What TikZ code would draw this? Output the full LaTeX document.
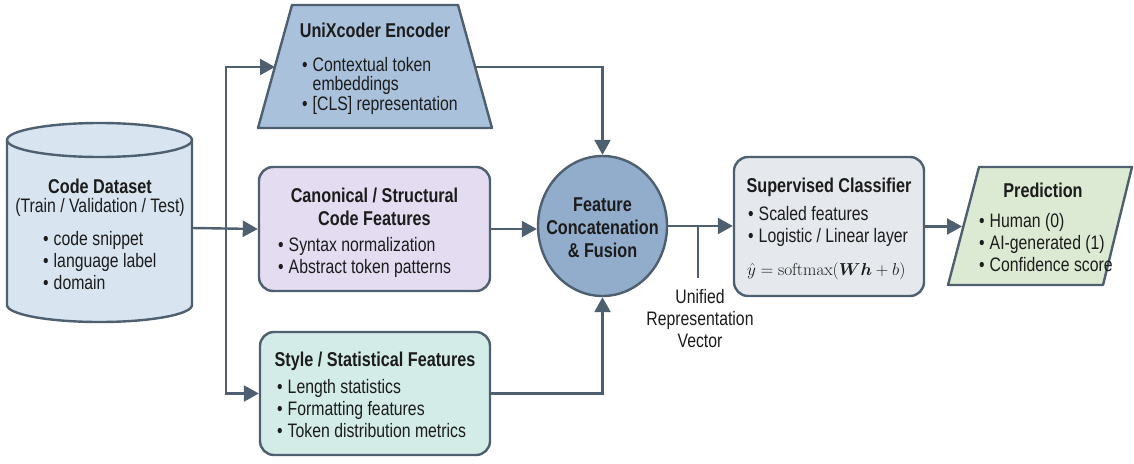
\documentclass[tikz,border=0pt]{standalone}
\usepackage[no-math]{fontspec}
\setmainfont[FakeStretch=0.81]{Liberation Sans}
\usepackage{amsmath,bm}
\usetikzlibrary{arrows.meta,shapes.geometric}
\definecolor{lc}{HTML}{4E5F70}
\definecolor{tc}{HTML}{1C1C1C}
\definecolor{cylfill}{HTML}{D8E5F1}
\definecolor{encfill}{HTML}{A9C1DB}
\definecolor{canfill}{HTML}{E4DDF2}
\definecolor{circfill}{HTML}{92ACCB}
\definecolor{stylefill}{HTML}{D4ECE7}
\definecolor{clffill}{HTML}{E5E8EC}
\definecolor{predfill}{HTML}{DCEAD3}
\newcommand{\tbl}[1]{\begin{tabular}[t]{@{}l@{\hspace{5pt}}l@{}}#1\end{tabular}}
\begin{document}
\begin{tikzpicture}[x=1pt,y=1pt,
  bd/.style={draw=lc, line width=2.4pt, line join=round},
  box/.style={bd, rounded corners=14pt, inner sep=0pt},
  ln/.style={lc, line width=2.4pt},
  arr/.style={lc, line width=2.4pt, -{Triangle[length=15pt,width=16pt]}},
  ttl/.style={font=\bfseries\fontsize{20}{23}\selectfont, text=tc, inner sep=0pt, anchor=base},
  txt/.style={font=\fontsize{19.5}{22}\selectfont, text=tc, inner sep=0pt, anchor=base west},
  ctxt/.style={font=\fontsize{19.5}{22}\selectfont, text=tc, inner sep=0pt, anchor=base}
]
\useasboundingbox (0,0) rectangle (1134,-463);
\fill[white] (0,0) rectangle (1134,-463);

% ---- cylinder (dataset)
\path[fill=cylfill] (7,-140) -- (7,-305) arc[start angle=180,end angle=360,x radius=92.5,y radius=17]
  -- (192,-140) arc[start angle=0,end angle=180,x radius=92.5,y radius=17] -- cycle;
\draw[bd] (7,-140) -- (7,-305) arc[start angle=180,end angle=360,x radius=92.5,y radius=17]
  -- (192,-140) arc[start angle=0,end angle=180,x radius=92.5,y radius=17] -- cycle;
\draw[bd] (7,-140) arc[start angle=180,end angle=360,x radius=92.5,y radius=17];
\node[inner sep=0pt, minimum width=185pt, minimum height=160pt] (data) at (99.5,-228) {};
\node[ttl] (dataT) at (100,-193) {Code Dataset};
\node[ctxt] (dataS) at (100,-212) {(Train / Validation / Test)};
\node[txt] (dataL) at (43,-245) {\tbl{\textbullet & code snippet\\ \textbullet & language label\\ \textbullet & domain}};

% ---- encoder (trapezoid)
\draw[bd, fill=encfill] (258,-128) -- (292,-5) -- (458,-5) -- (492,-128) -- cycle;
\coordinate (encW) at (275,-67);
\coordinate (encE) at (475,-67);
\node[ttl] (encT) at (375,-37) {UniXcoder Encoder};
\node[txt, font=\fontsize{19.5}{19.5}\selectfont] (encL) at (302,-71) {\tbl{\textbullet & Contextual token\\ & embeddings\\ \textbullet & [CLS] representation}};

% ---- canonical box
\node[box, fill=canfill, minimum width=231pt, minimum height=124pt] (canon) at (374.5,-229) {};
\node[ttl, align=center] (canT) at (374.5,-202) {\begin{tabular}[t]{@{}c@{}}Canonical / Structural\\ Code Features\end{tabular}};
\node[txt] (canL) at (278,-251) {\tbl{\textbullet & Syntax normalization\\ \textbullet & Abstract token patterns}};

% ---- style box
\node[box, fill=stylefill, minimum width=230pt, minimum height=123pt] (style) at (375,-393.5) {};
\node[ttl] (styT) at (375,-366) {Style / Statistical Features};
\node[txt] (styL) at (277,-393) {\tbl{\textbullet & Length statistics\\ \textbullet & Formatting features\\ \textbullet & Token distribution metrics}};

% ---- fusion circle
\node[ellipse, bd, fill=circfill, minimum width=129pt, minimum height=140pt, inner sep=0pt] (circ) at (602.5,-226) {};
\node[ttl] (cirT) at (602.5,-211) {\begin{tabular}[t]{@{}c@{}}Feature\\ Concatenation\\ \& Fusion\end{tabular}};

% ---- classifier
\node[box, fill=clffill, minimum width=190pt, minimum height=139pt] (clf) at (829,-226.5) {};
\node[ttl] (clfT) at (829,-192) {Supervised Classifier};
\node[txt] (clfL) at (748,-220) {\tbl{\textbullet & Scaled features\\ \textbullet & Logistic / Linear layer}};
\node[txt, font=\fontsize{17.5}{20}\selectfont] (clfF) at (747,-275) {$\hat{y} = \mathrm{softmax}(\bm{Wh} + b)$};

% ---- prediction (parallelogram)
\draw[bd, fill=predfill] (948,-285) -- (979,-167) -- (1132,-167) -- (1103,-285) -- cycle;
\coordinate (predW) at (962,-226.5);
\node[ttl] (preT) at (1043,-197) {Prediction};
\node[txt] (preL) at (979,-227) {\tbl{\textbullet & Human (0)\\ \textbullet & AI-generated (1)\\ \textbullet & Confidence score}};

% ---- connectors
\coordinate (tj) at (226,-228);
\draw[arr] (data.east) -- (canon.west);
\draw[arr] (tj) |- (encW);
\draw[arr] (tj) |- (style.west);
\draw[arr] (encE) -| (circ.north);
\draw[arr] (style.east) -| (circ.south);
\draw[arr] (canon.east) -- (canon.east -| circ.west);
\coordinate (cE) at (circ.east);
\draw[arr] (cE) -- (cE -| clf.west);
\coordinate (br) at (698,-226);
\coordinate (brEnd) at (698,-278);
\draw[ln] (br) -- (brEnd);
\draw[arr] (clf.east) -- (predW);
\node[ctxt] (uvec) at (700,-303) {\begin{tabular}[t]{@{}c@{}}Unified\\ Representation\\ Vector\end{tabular}};
\end{tikzpicture}
\end{document}
